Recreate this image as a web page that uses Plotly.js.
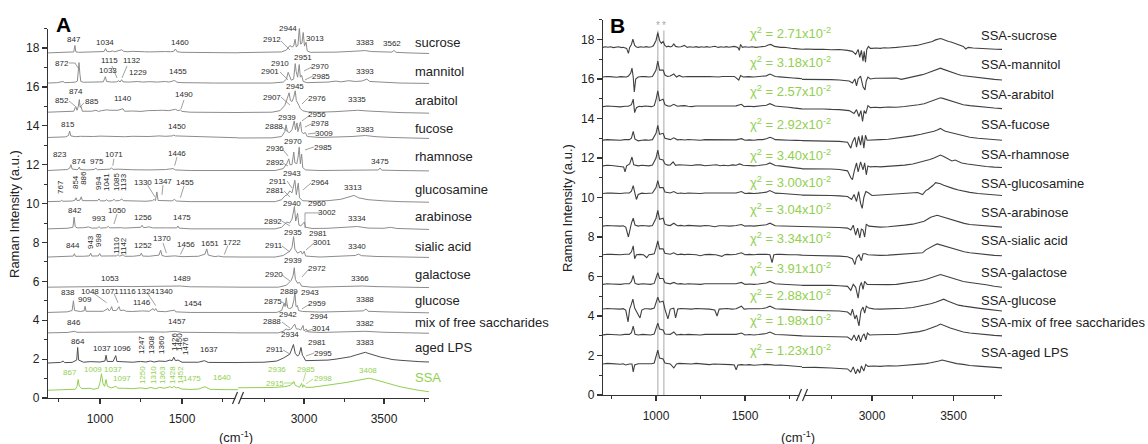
<!DOCTYPE html>
<html><head><meta charset="utf-8">
<script src="https://cdn.plot.ly/plotly-3.0.1.min.js"></script>
<style>html,body{margin:0;padding:0;background:#fff}#chart{width:1148px;height:444px}</style>
</head><body><div id="chart"></div>
<script>
// ---------- Panel A : reference spectra (values relative to each offset) ----------
const namesA = ['sucrose','mannitol','arabitol','fucose','rhamnose','glucosamine','arabinose','sialic acid','galactose','glucose','mix of free saccharides','aged LPS','SSA'];
const offsetsA = [17.75,16.2,14.7,13.4,11.7,10.1,8.7,7.25,5.7,4.4,3.35,1.8,0.4];
const nameYA = [18.26,16.77,15.28,13.84,12.40,10.75,9.36,7.77,6.33,4.99,3.86,2.62,1.08];

const A_sucrose1 = [683,0,760,0.01,800,0.03,830,0.02,840,0.05,847,0.38,853,0.05,870,0.03,920,0.04,960,0.03,1000,0.05,1025,0.07,1034,0.22,1042,0.08,1060,0.06,1075,0.1,1090,0.06,1110,0.1,1125,0.14,1132,0.16,1145,0.08,1170,0.06,1200,0.08,1240,0.05,1270,0.06,1300,0.05,1340,0.07,1370,0.05,1400,0.07,1430,0.06,1450,0.08,1460,0.2,1470,0.06,1500,0.03,1600,0.01,1700,0,1900,0];
const A_sucrose2 = [2500,0,2800,0.01,2860,0.05,2890,0.15,2905,0.3,2912,0.38,2925,0.3,2935,0.35,2944,0.7,2952,0.3,2962,0.4,2971,1.3,2978,0.45,2987,0.5,2995,1.05,3003,0.35,3013,0.55,3020,0.1,3040,0.03,3100,0.02,3200,0.04,3300,0.08,3383,0.12,3420,0.07,3500,0.03,3550,0.04,3562,0.13,3575,0.03,3650,0,3781,-0.03];
const A_mannitol1 = [683,0,740,0.02,775,0.08,785,0.02,820,0.03,850,0.05,862,0.1,867,0.5,872,1.05,877,0.5,883,0.08,900,0.04,950,0.05,990,0.04,1020,0.06,1033,0.33,1040,0.08,1070,0.05,1100,0.06,1115,0.12,1122,0.05,1132,0.17,1140,0.06,1180,0.05,1229,0.08,1260,0.05,1300,0.07,1350,0.05,1400,0.08,1420,0.05,1455,0.13,1470,0.04,1500,0.02,1700,0,1900,0];
const A_mannitol2 = [2500,0,2800,0,2870,0.05,2890,0.2,2901,0.55,2910,0.35,2920,0.15,2935,0.2,2945,1.0,2951,0.6,2960,0.3,2970,0.95,2977,0.3,2985,0.4,2995,0.08,3020,0.02,3100,0.03,3150,0.05,3200,0.1,3230,0.06,3280,0.12,3320,0.08,3360,0.1,3393,0.2,3410,0.08,3500,0.03,3600,0,3781,-0.02];
const A_arabitol1 = [683,0,750,0.03,800,0.02,840,0.05,852,0.3,860,0.1,868,0.3,874,0.65,879,0.25,885,0.3,892,0.05,920,0.06,950,0.05,975,0.1,990,0.04,1010,0.08,1040,0.12,1060,0.1,1090,0.08,1110,0.1,1140,0.18,1150,0.05,1200,0.06,1250,0.04,1290,0.08,1320,0.1,1350,0.09,1380,0.1,1420,0.08,1460,0.15,1475,0.08,1490,0.12,1500,0.04,1550,0,1650,-0.02,1800,-0.02,1900,-0.02];
const A_arabitol2 = [2500,-0.02,2800,0,2850,0.08,2880,0.35,2895,0.7,2907,1.0,2915,0.6,2925,0.55,2935,0.75,2945,1.1,2952,0.6,2960,0.5,2968,0.35,2976,0.2,2990,0.08,3020,0.02,3100,0,3200,0.03,3300,0.08,3335,0.1,3400,0.06,3500,0.02,3600,-0.02,3781,-0.05];
const A_fucose1 = [683,0,750,0.02,790,0.03,808,0.1,815,0.33,822,0.08,850,0.04,880,0.06,920,0.04,960,0.05,1000,0.07,1050,0.05,1100,0.06,1150,0.04,1200,0.06,1260,0.04,1300,0.05,1360,0.08,1400,0.06,1440,0.08,1450,0.12,1460,0.08,1520,0.06,1600,0.04,1700,0,1800,-0.03,1900,-0.03];
const A_fucose2 = [2500,-0.03,2800,-0.02,2860,0.05,2880,0.3,2888,0.65,2896,0.3,2910,0.25,2925,0.4,2939,0.85,2947,0.4,2956,0.75,2962,0.3,2970,0.55,2978,0.8,2985,0.3,2995,0.2,3009,0.25,3020,0.05,3100,0,3200,0.02,3300,0.05,3383,0.1,3450,0.04,3550,0,3781,-0.05];
const A_rhamnose1 = [683,0,750,0.02,800,0.05,815,0.12,823,0.3,830,0.08,860,0.04,868,0.08,874,0.18,880,0.05,920,0.03,965,0.05,975,0.12,985,0.04,1030,0.05,1060,0.07,1071,0.13,1080,0.06,1110,0.07,1150,0.05,1200,0.04,1300,0.03,1400,0.05,1446,0.1,1460,0.03,1550,0,1900,0];
const A_rhamnose2 = [2500,0,2820,0,2870,0.1,2892,0.35,2905,0.6,2912,0.3,2925,0.3,2936,0.95,2943,0.4,2955,0.35,2963,0.7,2970,1.2,2977,0.35,2985,0.85,2992,0.15,3010,0.03,3100,0,3400,0.02,3465,0.03,3475,0.13,3485,0.02,3600,0,3781,-0.02];
const A_glucosamine1 = [683,0,760,0.02,767,0.07,774,0.02,830,0.03,848,0.08,854,0.2,860,0.05,878,0.08,886,0.25,893,0.05,950,0.04,985,0.05,994,0.14,1003,0.04,1030,0.04,1041,0.1,1050,0.03,1075,0.05,1085,0.12,1095,0.04,1120,0.06,1133,0.14,1142,0.05,1200,0.03,1280,0.02,1320,0.05,1330,0.12,1338,0.05,1347,0.5,1354,0.06,1400,0.03,1440,0.04,1455,0.12,1465,0.03,1550,0,1900,0];
const A_glucosamine2 = [2500,0,2820,0,2860,0.1,2881,0.3,2895,0.35,2911,0.55,2925,0.45,2943,1.1,2952,0.35,2964,0.95,2972,0.2,2990,0.05,3050,0.02,3150,0.05,3230,0.12,3280,0.25,3313,0.32,3340,0.2,3400,0.1,3500,0.04,3600,0,3781,-0.03];
const A_arabinose1 = [683,0,760,0.02,800,0.03,835,0.08,842,0.6,849,0.12,860,0.05,900,0.06,930,0.1,950,0.04,985,0.04,993,0.12,1003,0.04,1040,0.06,1050,0.13,1060,0.05,1100,0.07,1130,0.06,1150,0.04,1200,0.05,1248,0.08,1256,0.18,1265,0.06,1300,0.1,1320,0.05,1400,0.05,1468,0.05,1475,0.15,1482,0.04,1550,0,1900,0];
const A_arabinose2 = [2500,0,2820,0,2860,0.08,2892,0.35,2910,0.3,2925,0.5,2940,1.15,2948,0.4,2960,0.8,2968,0.2,2980,0.15,3002,0.35,3010,0.08,3050,0.02,3150,0.03,3250,0.06,3334,0.12,3400,0.04,3500,0.03,3540,0.08,3580,0.02,3781,-0.03];
const A_sialic1 = [683,0,760,0.02,838,0.05,844,0.17,850,0.04,900,0.04,935,0.06,943,0.2,950,0.05,990,0.06,998,0.18,1006,0.05,1040,0.05,1070,0.07,1100,0.06,1110,0.12,1120,0.05,1142,0.12,1150,0.04,1200,0.04,1245,0.08,1252,0.2,1260,0.05,1300,0.04,1360,0.1,1370,0.35,1378,0.08,1400,0.03,1456,0.06,1500,0.02,1600,0.04,1640,0.15,1651,0.42,1660,0.1,1700,0.02,1722,0.05,1750,0.01,1900,0];
const A_sialic2 = [2500,0,2820,0,2870,0.08,2911,0.3,2925,0.5,2935,1.05,2943,0.4,2960,0.2,2981,0.3,2990,0.15,3001,0.3,3010,0.05,3100,0,3250,0.04,3320,0.08,3340,0.15,3360,0.07,3450,0.03,3600,0,3781,-0.02];
const A_galactose1 = [683,0,800,0.02,900,0.03,1000,0.03,1053,0.07,1100,0.04,1200,0.03,1300,0.04,1400,0.03,1489,0.06,1550,0.02,1700,0,1900,0];
const A_galactose2 = [2500,0,2840,0,2890,0.1,2920,0.35,2932,0.6,2939,1.0,2946,0.4,2960,0.2,2972,0.25,2985,0.05,3050,0,3250,0.03,3366,0.06,3450,0.03,3781,-0.02];
const A_glucose1 = [683,0,760,0.03,800,0.03,830,0.1,838,0.6,845,0.1,880,0.05,903,0.08,909,0.32,915,0.06,980,0.05,1000,0.08,1020,0.06,1048,0.2,1056,0.08,1064,0.15,1071,0.3,1078,0.1,1100,0.1,1116,0.3,1124,0.1,1146,0.12,1160,0.06,1200,0.05,1260,0.08,1300,0.06,1324,0.2,1332,0.1,1340,0.2,1350,0.06,1400,0.04,1454,0.12,1462,0.03,1550,0,1900,0];
const A_glucose2 = [2500,0,2830,0,2860,0.1,2875,0.45,2882,0.3,2889,0.75,2897,0.25,2910,0.2,2925,0.25,2936,0.6,2943,1.05,2950,0.3,2959,0.35,2966,0.1,2990,0.05,3100,0.02,3250,0.05,3370,0.08,3388,0.18,3400,0.06,3500,0.03,3781,-0.02];
const A_mix1 = [683,0,800,0.02,846,0.08,860,0.03,900,0.03,1000,0.04,1050,0.06,1100,0.05,1200,0.04,1300,0.05,1400,0.04,1457,0.08,1500,0.03,1700,0.01,1900,0];
const A_mix2 = [2500,0,2840,0,2870,0.08,2888,0.2,2900,0.15,2920,0.2,2942,0.45,2952,0.2,2965,0.2,2980,0.15,2994,0.38,3000,0.1,3014,0.2,3025,0.05,3100,0.02,3250,0.05,3382,0.08,3500,0.03,3781,-0.02];
const A_lps1 = [683,0,760,0.03,775,0.1,785,0.02,830,0.03,858,0.15,864,0.8,870,0.15,900,0.04,940,0.07,1000,0.05,1030,0.1,1037,0.4,1044,0.08,1080,0.08,1096,0.38,1103,0.08,1150,0.05,1200,0.04,1247,0.08,1280,0.05,1308,0.1,1330,0.05,1360,0.1,1400,0.08,1426,0.15,1440,0.12,1450,0.3,1460,0.12,1476,0.15,1500,0.04,1600,0.04,1637,0.12,1660,0.03,1750,0.02,1900,0.02];
const A_lps2 = [2500,0.02,2750,0.04,2830,0.1,2870,0.25,2911,0.45,2925,0.7,2934,0.95,2945,0.5,2960,0.35,2970,0.45,2981,0.8,2990,0.4,2995,0.35,3010,0.12,3050,0.12,3100,0.14,3150,0.15,3200,0.2,3250,0.25,3290,0.32,3320,0.4,3350,0.48,3383,0.55,3400,0.5,3420,0.45,3450,0.38,3480,0.3,3520,0.24,3550,0.18,3600,0.14,3650,0.1,3720,0.07,3781,0.05];
const A_ssa1 = [683,0,750,0.02,780,0.05,800,0.02,850,0.05,860,0.2,867,0.55,874,0.2,890,0.08,940,0.1,960,0.05,990,0.1,1000,0.4,1009,0.85,1018,0.35,1028,0.2,1037,0.55,1045,0.2,1070,0.12,1097,0.2,1110,0.1,1150,0.1,1200,0.08,1250,0.12,1280,0.08,1310,0.14,1340,0.08,1363,0.15,1390,0.1,1428,0.18,1440,0.12,1452,0.2,1465,0.12,1475,0.15,1500,0.06,1550,0.04,1600,0.06,1640,0.18,1670,0.05,1750,0.03,1900,0.03];
const A_ssa2 = [2500,0.12,2650,0.12,2800,0.14,2880,0.18,2915,0.25,2936,0.45,2945,0.25,2960,0.2,2972,0.15,2985,0.35,2992,0.15,2998,0.28,3010,0.15,3050,0.15,3150,0.25,3250,0.38,3330,0.5,3380,0.58,3408,0.62,3440,0.55,3500,0.4,3600,0.18,3700,0.02,3781,-0.08];

const specA1 = [A_sucrose1,A_mannitol1,A_arabitol1,A_fucose1,A_rhamnose1,A_glucosamine1,A_arabinose1,A_sialic1,A_galactose1,A_glucose1,A_mix1,A_lps1,A_ssa1];
const specA2 = [A_sucrose2,A_mannitol2,A_arabitol2,A_fucose2,A_rhamnose2,A_glucosamine2,A_arabinose2,A_sialic2,A_galactose2,A_glucose2,A_mix2,A_lps2,A_ssa2];

// peak labels of panel A: [text, wavenumber, intensity, segment, rotated]
const peakLabelsA = [
['847',841,18.42,1,0],['1034',1030,18.31,1,0],['1460',1488,18.26,1,0],['2912',2800,18.42,2,0],['2944',2900,18.98,2,0],['2971',2962,19.65,2,0],['2995',3050,19.03,2,0],['3013',3069,18.47,2,0],['3383',3381,18.26,2,0],['3562',3550,18.21,2,0],
['872',768,17.23,1,0],['1115',1061,17.34,1,0],['1132',1195,17.34,1,0],['1033',1049,16.82,1,0],['1229',1232,16.72,1,0],['1455',1476,16.77,1,0],['2910',2850,17.23,2,0],['2901',2787,16.77,2,0],['2951',2994,17.49,2,0],['2970',3100,17.03,2,0],['2985',3106,16.56,2,0],['2945',2944,16.00,2,0],['3393',3381,16.77,2,0],
['874',854,15.79,1,0],['852',768,15.28,1,0],['885',951,15.23,1,0],['1140',1140,15.38,1,0],['1490',1512,15.59,1,0],['2907',2800,15.48,2,0],['2976',3081,15.43,2,0],['3335',3331,15.33,2,0],
['815',805,14.09,1,0],['1450',1470,13.99,1,0],['2888',2812,13.94,2,0],['2939',2894,14.45,2,0],['2956',3081,14.58,2,0],['2978',3100,14.13,2,0],['3009',3125,13.63,2,0],['3383',3381,13.79,2,0],
['823',756,12.55,1,0],['874',872,12.19,1,0],['975',982,12.19,1,0],['1071',1085,12.50,1,0],['1446',1470,12.60,1,0],['2936',2819,12.81,2,0],['2892',2819,12.09,2,0],['2970',2931,13.17,2,0],['2985',3119,12.91,2,0],['3475',3475,12.19,2,0],
['767',756,10.85,1,1],['854',848,11.11,1,1],['886',902,11.32,1,1],['994',994,11.06,1,1],['1041',1037,11.11,1,1],['1085',1097,11.11,1,1],['1133',1140,11.11,1,1],['1330',1262,11.06,1,0],['1347',1384,11.16,1,0],['1455',1518,11.06,1,0],['2911',2837,11.16,2,0],['2881',2819,10.65,2,0],['2943',2925,11.57,2,0],['2964',3100,11.06,2,0],['3313',3306,10.85,2,0],
['842',848,9.62,1,0],['993',994,9.21,1,0],['1050',1104,9.62,1,0],['1256',1262,9.26,1,0],['1475',1500,9.26,1,0],['2892',2806,9.10,2,0],['2940',2925,10.03,2,0],['2960',3081,10.03,2,0],['3002',3144,9.52,2,0],['3334',3331,9.21,2,0],
['844',835,7.82,1,0],['943',939,8.02,1,1],['998',994,8.13,1,1],['1110',1104,7.82,1,1],['1142',1146,7.82,1,1],['1252',1262,7.82,1,0],['1370',1378,8.18,1,0],['1456',1524,7.92,1,0],['1651',1671,7.97,1,0],['1722',1805,8.02,1,0],['2911',2812,7.82,2,0],['2935',2931,8.49,2,0],['2981',3088,8.44,2,0],['3001',3112,8.02,2,0],['3340',3331,7.77,2,0],
['1053',1061,6.17,1,0],['1489',1500,6.17,1,0],['2920',2812,6.33,2,0],['2939',2931,7.05,2,0],['2972',3081,6.64,2,0],['3366',3350,6.17,2,0],
['838',805,5.45,1,0],['909',909,5.09,1,0],['1048',939,5.50,1,0],['1071',1061,5.50,1,0],['1116',1165,5.50,1,0],['1324',1280,5.50,1,0],['1340',1390,5.50,1,0],['1146',1256,4.89,1,0],['1454',1567,4.84,1,0],['2889',2906,5.50,2,0],['2875',2806,4.94,2,0],['2943',3037,5.45,2,0],['2959',3081,4.84,2,0],['3388',3381,5.09,2,0],
['846',841,3.86,1,0],['1457',1470,3.91,1,0],['2888',2800,3.91,2,0],['2942',2900,4.32,2,0],['2994',3094,4.17,2,0],['3014',3106,3.55,2,0],['3382',3381,3.81,2,0],
['864',866,2.93,1,0],['1037',1012,2.57,1,0],['1096',1134,2.57,1,0],['1247',1256,2.73,1,1],['1308',1317,2.73,1,1],['1360',1378,2.73,1,1],['1426',1451,2.88,1,1],['1450',1482,2.88,1,1],['1476',1518,2.67,1,1],['1637',1665,2.47,1,0],['2911',2819,2.47,2,0],['2934',2912,3.29,2,0],['2981',3081,2.83,2,0],['2995',3119,2.31,2,0],['3383',3381,2.83,2,0]
];
const peakLabelsSSA = [
['867',817,1.29,1,0],['1009',957,1.49,1,0],['1037',1079,1.49,1,0],['1097',1134,0.98,1,0],['1250',1256,1.18,1,1],['1310',1323,1.18,1,1],['1363',1378,1.18,1,1],['1428',1439,1.18,1,1],['1452',1488,1.18,1,1],['1475',1561,0.98,1,0],['1640',1744,1.08,1,0],['2915',2819,0.77,2,0],['2936',2831,1.49,2,0],['2985',3012,1.49,2,0],['2998',3119,0.98,2,0],['3408',3400,1.44,2,0]
];
// leader lines from labels to peaks: [segment, w0, v0, w1, v1]
const leadersA = [
[1,811,17.23,848,17.23],[1,848,17.23,866,16.98],[1,1073,17.08,1104,16.46],[1,1165,17.08,1134,16.46],
[1,811,15.28,848,15.02],[1,902,15.17,878,14.97],[1,1512,15.33,1494,14.87],
[1,1470,12.40,1455,11.95],[1,1085,12.30,1078,11.95],
[1,1290,10.95,1335,10.35],[1,1384,10.95,1378,10.45],[1,1512,10.90,1490,10.30],
[1,1104,9.45,1085,8.95],[1,1384,7.98,1405,7.45],[1,1512,7.75,1490,7.38],[1,1780,7.85,1758,7.38],
[1,960,5.40,1040,4.90],[1,1085,5.38,1110,4.90],[1,1290,5.38,1340,4.75],
[2,2856,18.36,2912,17.90],[2,2850,16.77,2900,16.36],[2,3050,17.03,3000,16.82],[2,3056,16.56,3006,16.36],
[2,2856,15.48,2912,15.07],[2,3025,15.43,2987,15.12],[2,2862,13.94,2894,13.73],[2,3037,14.55,2987,14.25],
[2,3056,14.13,3006,13.94],[2,3075,13.63,3025,13.58],[2,2869,12.76,2900,12.45],[2,2869,12.09,2900,11.93],
[2,3062,12.91,3006,12.76],[2,2894,11.16,2925,10.80],[2,2875,10.65,2912,10.34],[2,3044,11.06,2994,10.70],
[2,2862,9.10,2912,8.85],[2,3006,8.74,3006,9.52],[2,3006,9.52,3100,9.52],[2,2862,7.82,2912,7.51],[2,3069,8.02,3012,7.61],
[2,2862,6.33,2912,6.02],[2,3031,6.64,2987,6.22],[2,2862,4.94,2900,4.74],[2,3037,4.84,2987,4.58],
[2,2862,3.91,2912,3.60],[2,3056,3.55,3006,3.40],[2,2869,2.47,2912,2.26],[2,3062,2.31,3012,2.16]
];
const leadersSSA = [[2,2875,0.77,2944,0.77],[2,3056,0.98,3012,0.72],[2,3012,1.35,2995,0.85]];

// ---------- Panel B : residual spectra ----------
const namesB = ['SSA-sucrose','SSA-mannitol','SSA-arabitol','SSA-fucose','SSA-rhamnose','SSA-glucosamine','SSA-arabinose','SSA-sialic acid','SSA-galactose','SSA-glucose','SSA-mix of free saccharides','SSA-aged LPS'];
const offsetsB = [17.6,16.1,14.6,12.9,11.6,10.2,8.55,7.1,5.6,4.35,3.04,1.57];
const nameYB = [18.18,16.71,15.19,13.72,12.20,10.73,9.22,7.80,6.18,4.81,3.65,2.13];
const chi2 = ['2.71','3.18','2.57','2.92','3.40','3.00','3.04','3.34','3.91','2.88','1.98','1.23'];
const chiY = [18.33,16.86,15.39,13.72,12.15,10.78,9.42,7.95,6.43,5.06,3.80,2.28];
const markedPeaks = [1010,1044];

const B_sucrose1 = [700,0,715,0.03,730,0.01,745,0.03,760,-0.01,775,0.02,790,0.03,805,-0.01,815,0.01,835,-0.05,845,-0.3,852,0,862,0.15,870,0.42,880,0.1,890,0.02,900,0,915,0.03,930,0.01,945,0.04,960,0.01,975,0.03,985,0.08,1000,0.35,1010,0.75,1020,0.35,1030,0.2,1040,0.3,1050,0.1,1060,0.03,1070,0.06,1080,0.02,1090,0.06,1100,0.18,1110,0.05,1125,0.02,1140,0.03,1160,0.1,1175,0,1190,0.03,1210,0.01,1225,0.04,1240,0,1255,0.03,1270,0.01,1285,0.04,1300,0.01,1315,0.03,1330,0.06,1350,0,1365,0.03,1380,0.01,1395,0.04,1410,0.01,1425,0.03,1440,0.05,1460,0,1468,-0.15,1475,0.15,1485,0,1500,0.03,1520,0.01,1540,0.03,1560,0,1580,0.02,1600,0.03,1615,0.06,1630,0.12,1645,0.15,1665,0.05,1680,0.02,1700,0,1720,0.01,1740,-0.03,1760,-0.04,1780,-0.06,1800,-0.07,1830,-0.1];
const B_sucrose2 = [2560,-0.1,2600,-0.08,2650,-0.1,2700,-0.09,2750,-0.12,2800,-0.11,2850,-0.15,2880,-0.2,2900,-0.35,2915,-0.1,2925,-0.5,2935,-0.15,2945,-0.7,2952,-0.2,2960,-0.75,2968,-0.1,2978,0.05,2990,-0.05,3000,-0.05,3025,-0.03,3050,-0.05,3075,-0.02,3100,-0.03,3125,0.0,3150,0,3175,0.02,3200,0.03,3225,0.05,3250,0.08,3275,0.1,3300,0.15,3325,0.19,3350,0.25,3370,0.3,3390,0.38,3405,0.4,3420,0.45,3430,0.42,3440,0.38,3455,0.35,3470,0.3,3485,0.27,3500,0.22,3515,0.18,3530,0.12,3545,0.09,3560,0.05,3575,-0.08,3590,0,3620,-0.03,3650,-0.05,3685,-0.06,3720,-0.08,3760,-0.09,3800,-0.1];
const B_mannitol1 = [700,0,720,0.03,740,0.02,760,0.0,780,-0.01,800,0.02,820,0.02,835,0.0,845,0.05,858,0.2,865,0.45,872,0,878,-0.75,886,-0.1,900,0,920,0.03,940,0.02,960,0.0,980,0.03,1000,0.35,1010,0.8,1020,0.35,1040,0.35,1050,0.1,1065,0.03,1080,0.05,1100,0.15,1115,0,1130,0.08,1150,0,1175,0.03,1200,0.02,1225,0.04,1250,0,1275,0.02,1300,0.03,1325,0.0,1350,0,1375,0.03,1400,0.02,1420,0.0,1440,0.03,1465,-0.15,1475,0.08,1490,0,1520,0.02,1550,0,1575,0.02,1600,0.02,1620,0.06,1640,0.15,1655,0.1,1670,0.03,1695,0.01,1720,0,1745,-0.03,1770,-0.05,1800,-0.07,1830,-0.1];
const B_mannitol2 = [2560,-0.12,2630,-0.11,2700,-0.12,2750,-0.13,2800,-0.15,2860,-0.2,2880,-0.3,2895,-0.1,2905,-0.45,2915,-0.1,2930,0.05,2945,-0.5,2957,-0.65,2965,-0.2,2975,0,2990,-0.1,3020,-0.06,3050,-0.05,3100,-0.06,3150,-0.05,3180,-0.12,3220,-0.05,3250,0.0,3280,0.05,3310,0.12,3340,0.2,3360,0.27,3380,0.35,3400,0.4,3420,0.45,3435,0.4,3450,0.35,3475,0.28,3500,0.2,3525,0.14,3550,0.08,3585,0.04,3620,0,3660,-0.04,3700,-0.08,3750,-0.12,3800,-0.15];
const B_arabitol1 = [700,0,725,0.03,750,0.02,775,0.0,800,-0.01,825,0.02,845,0.02,862,0.1,872,0.38,880,-0.3,890,-0.05,905,0.02,920,0,940,0.03,960,0.02,975,0.0,990,0.05,1000,0.35,1010,0.8,1020,0.3,1040,0.38,1050,0.1,1065,0.04,1080,0.02,1100,0.12,1120,0.02,1140,0.04,1160,0.05,1180,0.02,1200,0,1225,0.03,1250,0.03,1275,0.0,1300,0,1325,0.03,1350,0.03,1375,0.0,1400,0,1425,0.03,1450,0.04,1480,0.12,1495,0,1520,0.02,1550,0,1575,0.02,1600,0.03,1620,0.07,1640,0.15,1655,0.1,1670,0.03,1695,0.01,1720,0,1745,-0.03,1770,-0.06,1800,-0.08,1830,-0.12];
const B_arabitol2 = [2560,-0.12,2630,-0.11,2700,-0.12,2750,-0.14,2800,-0.15,2860,-0.2,2890,-0.35,2905,-0.15,2920,-0.5,2932,-0.2,2942,-0.75,2952,-0.2,2962,-0.35,2975,0.05,2990,-0.05,3020,-0.03,3050,-0.05,3100,-0.02,3150,-0.03,3200,0.01,3250,0.05,3285,0.1,3320,0.15,3350,0.25,3380,0.35,3400,0.41,3420,0.45,3435,0.42,3450,0.38,3475,0.3,3500,0.22,3530,0.15,3560,0.1,3600,0.05,3650,0,3700,-0.04,3750,-0.07,3800,-0.1];
const B_fucose1 = [700,0,725,0.03,750,0.02,775,0.0,800,0,825,0.03,850,0.03,862,0.1,872,0.45,882,0.05,900,-0.03,920,0.0,940,0.02,960,0.0,980,0.03,1000,0.35,1010,0.75,1020,0.3,1040,0.35,1050,0.1,1065,0.05,1080,0.03,1100,0.12,1120,0.02,1140,0.04,1160,0.01,1180,0.04,1200,0.03,1225,0.01,1250,0,1275,0.03,1300,0.03,1325,0.0,1350,0,1375,0.03,1400,0.03,1425,0.0,1450,0.02,1480,0.08,1500,0,1525,0.02,1550,0.0,1575,0.03,1600,0.03,1620,0.07,1640,0.15,1655,0.1,1670,0.03,1700,0.02,1725,0.0,1750,0,1790,-0.01,1830,-0.02];
const B_fucose2 = [2560,-0.02,2625,-0.03,2690,-0.02,2750,-0.05,2800,-0.06,2850,-0.1,2870,-0.4,2880,-0.1,2895,0.15,2905,-0.35,2918,0.2,2930,-0.25,2940,0.25,2950,-0.4,2960,0.25,2970,0,3000,0,3050,0.03,3100,0.05,3150,0.1,3200,0.15,3250,0.22,3300,0.3,3340,0.36,3380,0.45,3400,0.52,3420,0.6,3435,0.52,3450,0.45,3475,0.4,3500,0.35,3530,0.28,3560,0.2,3600,0.15,3650,0.1,3690,0.07,3720,0.05,3760,0.02,3800,0];
const B_rhamnose1 = [700,0,725,0.03,750,0.02,775,0.0,800,0,818,-0.05,826,-0.3,835,0,852,0.1,865,0.45,875,0.05,890,0.02,900,0,920,0.03,940,0.02,960,0.0,980,0.05,1000,0.4,1010,0.8,1020,0.35,1040,0.3,1050,0.1,1065,0.04,1080,0.05,1096,0.2,1110,0.03,1130,0.06,1150,0.05,1175,0.01,1200,0.02,1225,0.05,1250,0.05,1275,0.01,1300,0.02,1320,0.05,1340,0.06,1360,0.01,1380,0.03,1405,0.01,1430,0.05,1450,0.03,1470,0.1,1490,0.03,1520,0.01,1550,0,1575,0.02,1600,0.03,1620,0.07,1640,0.15,1655,0.1,1670,0.02,1695,0.0,1720,-0.03,1745,-0.05,1770,-0.08,1800,-0.11,1830,-0.15];
const B_rhamnose2 = [2560,-0.15,2630,-0.14,2700,-0.15,2750,-0.16,2800,-0.18,2850,-0.25,2870,-0.6,2880,-0.7,2890,-0.3,2905,0.15,2915,-0.3,2930,0.2,2945,-0.2,2955,0.15,2965,-0.45,2975,0,2990,-0.05,3020,-0.03,3050,-0.05,3100,-0.03,3150,0,3200,0.04,3250,0.1,3290,0.17,3330,0.25,3355,0.32,3380,0.4,3400,0.48,3420,0.55,3440,0.48,3460,0.4,3475,0.32,3490,0.25,3510,0.3,3530,0.22,3550,0.15,3585,0.1,3620,0.05,3660,0.01,3700,-0.03,3750,-0.06,3800,-0.08];
const B_glucosamine1 = [700,0,725,0.03,750,0.02,775,0.0,800,0,825,0.03,850,0.03,862,0.12,872,0.4,882,0,890,-0.3,900,-0.05,920,0.02,940,0,960,0.02,980,0.03,1000,0.3,1010,0.65,1020,0.3,1040,0.3,1050,0.08,1065,0.04,1080,0.03,1100,0.1,1120,0,1140,0.03,1160,0.0,1180,0.03,1200,0.02,1225,0.0,1250,0,1275,0.03,1300,0.03,1325,0.0,1350,0,1375,0.03,1400,0.02,1425,0.0,1450,0.03,1480,0.1,1500,0,1525,0.02,1550,0.0,1575,0.02,1600,0.03,1620,0.07,1640,0.15,1655,0.1,1670,0.02,1710,0.0,1750,-0.03,1790,-0.05,1830,-0.08];
const B_glucosamine2 = [2560,-0.08,2650,-0.08,2750,-0.1,2800,-0.12,2850,-0.15,2875,-0.3,2890,-0.05,2905,-0.4,2918,0.1,2930,-0.5,2940,-0.75,2950,-0.2,2962,0.1,2975,0.05,3000,-0.1,3050,-0.07,3100,-0.05,3150,-0.03,3200,0,3240,0.02,3280,0.05,3310,-0.05,3330,0.15,3345,0.22,3360,0.3,3375,0.42,3390,0.55,3405,0.52,3420,0.5,3440,0.42,3460,0.35,3480,0.3,3500,0.25,3530,0.18,3560,0.12,3600,0.06,3650,0,3700,-0.04,3750,-0.07,3800,-0.1];
const B_arabinose1 = [700,0,725,0.03,750,0.02,775,0.0,800,0,815,0.02,830,-0.05,845,-0.55,855,0,862,0.15,872,0.4,882,0.05,900,0,920,0.03,940,0.02,960,0.0,980,0.03,1000,0.4,1010,0.8,1020,0.35,1040,0.4,1050,0.1,1065,0.05,1080,0.03,1100,0.15,1120,0.02,1140,0.04,1160,0.01,1180,0.04,1200,0.03,1225,0.0,1250,0,1275,0.03,1300,0.02,1330,-0.03,1355,0.02,1380,0.02,1415,0.0,1450,0.03,1480,0.08,1500,0,1525,0.02,1550,0.0,1575,0.02,1600,0.03,1620,0.07,1640,0.15,1655,0.1,1670,0.02,1710,0.01,1750,0,1790,-0.01,1830,-0.02];
const B_arabinose2 = [2560,-0.02,2650,-0.03,2750,-0.05,2800,-0.07,2850,-0.1,2870,-0.2,2885,0.05,2900,-0.45,2912,-0.1,2925,-0.6,2935,-0.15,2945,-0.2,2955,-0.55,2965,0.1,2980,0,3010,-0.03,3050,-0.05,3100,-0.03,3150,0,3200,0.05,3250,0.1,3285,0.17,3320,0.25,3340,0.35,3360,0.45,3380,0.5,3400,0.55,3420,0.5,3440,0.45,3460,0.4,3480,0.35,3505,0.27,3530,0.2,3565,0.14,3600,0.08,3650,0.04,3700,0,3750,-0.03,3800,-0.05];
const B_sialic1 = [700,0,725,0.03,750,0.02,775,0.0,800,0,825,0.03,850,0.03,862,0.15,872,0.45,880,-0.2,890,0,910,0.02,930,0,948,-0.15,960,0,975,0.02,990,0.05,1000,0.35,1010,0.7,1020,0.3,1040,0.3,1050,0.08,1065,0.04,1080,0.03,1100,0.1,1120,0,1140,0.03,1160,0.01,1180,0.03,1200,0.03,1225,0.0,1250,-0.05,1275,0.01,1300,0.02,1335,0.0,1370,-0.08,1385,0.0,1400,0.02,1425,0.0,1450,0.03,1480,0.1,1500,0,1525,0.02,1550,0.0,1575,0.03,1600,0.02,1620,0.03,1640,0,1652,-0.4,1662,0,1680,0.03,1700,0.02,1725,0.0,1750,0,1790,0.0,1830,-0.02];
const B_sialic2 = [2560,-0.02,2650,-0.03,2750,-0.05,2800,-0.07,2850,-0.1,2880,-0.2,2895,-0.5,2905,-0.15,2920,0,2935,-0.3,2945,0.05,2960,0.05,2975,0,3010,-0.02,3050,-0.03,3100,-0.02,3150,0,3200,0.02,3250,0.05,3280,0.07,3310,0.1,3330,0.25,3350,0.35,3370,0.45,3385,0.5,3400,0.55,3420,0.5,3440,0.45,3460,0.4,3480,0.35,3505,0.27,3530,0.2,3565,0.15,3600,0.1,3650,0.05,3700,0,3750,-0.03,3800,-0.05];
const B_galactose1 = [700,0,725,0.03,750,0.02,775,0.0,800,0,825,0.03,850,0.03,862,0.15,872,0.45,882,0.05,900,0,925,0.03,950,0.02,970,0.0,990,0.05,1000,0.35,1010,0.6,1020,0.3,1040,0.3,1050,0.08,1065,0.04,1080,0.03,1100,0.1,1120,0.02,1140,0.04,1160,0.01,1180,0.03,1200,0.02,1225,0.0,1250,0,1275,0.03,1300,0.03,1325,0.0,1350,0,1375,0.03,1400,0.02,1425,0.0,1450,0.03,1480,0.1,1500,0,1525,0.02,1550,0.0,1575,0.02,1600,0.03,1620,0.07,1640,0.15,1655,0.1,1670,0.03,1710,0.01,1750,0,1790,-0.03,1830,-0.05];
const B_galactose2 = [2560,-0.05,2650,-0.04,2750,-0.05,2800,-0.07,2850,-0.1,2870,-0.3,2885,0,2900,-0.15,2915,-0.7,2925,-0.1,2935,0.1,2945,-0.25,2955,0.15,2970,0,3010,-0.01,3050,-0.02,3100,-0.01,3150,0,3200,0.05,3250,0.1,3290,0.17,3330,0.25,3355,0.32,3380,0.4,3400,0.45,3420,0.5,3440,0.45,3460,0.4,3480,0.35,3500,0.3,3530,0.22,3560,0.15,3600,0.1,3650,0.05,3700,-0.02,3750,-0.09,3800,-0.15];
const B_glucose1 = [700,0,725,0.03,750,0.02,775,0.0,800,0,815,0.02,830,-0.05,843,-0.65,852,0,860,0.2,870,0.5,880,0.05,895,-0.2,910,-0.45,920,-0.05,935,0.02,950,0.02,970,0.0,990,0.05,1000,0.3,1010,0.6,1020,0.35,1040,0.4,1050,0,1067,-0.5,1080,0,1100,0.05,1110,-0.45,1122,0,1140,0.03,1160,0.02,1180,0.0,1200,0,1225,0.03,1250,0.02,1275,0.0,1300,0,1330,-0.05,1343,-0.35,1355,0,1375,0.02,1400,0.03,1425,0.0,1450,0.02,1480,0.15,1495,0,1520,0.02,1550,0,1575,0.02,1600,0.03,1620,0.07,1640,0.15,1655,0.1,1670,0.02,1710,0.0,1750,-0.03,1790,-0.04,1830,-0.05];
const B_glucose2 = [2560,-0.05,2650,-0.06,2750,-0.08,2800,-0.1,2850,-0.15,2870,-0.3,2880,0,2895,-0.5,2905,-0.3,2920,-0.85,2932,-0.1,2945,0.1,2955,-0.2,2965,0.15,2980,0.05,3010,0.01,3050,0,3100,0.01,3150,0,3200,0.04,3250,0.08,3290,0.14,3330,0.2,3360,0.27,3390,0.35,3415,0.42,3440,0.5,3460,0.42,3480,0.35,3505,0.27,3530,0.2,3565,0.15,3600,0.1,3650,0.05,3700,0,3750,-0.05,3800,-0.1];
const B_mix1 = [700,0,725,0.03,750,0.02,775,0.0,800,0,825,0.03,850,0.03,862,0.12,872,0.45,882,0.03,900,0,925,0.03,950,0.02,970,0.0,990,0.05,1000,0.3,1010,0.6,1020,0.3,1040,0.25,1050,0.05,1065,0.04,1080,0.03,1100,0.15,1115,0,1140,0.03,1160,0.01,1180,0.03,1200,0.02,1225,0.0,1250,0,1275,0.03,1300,0.03,1325,0.0,1350,0,1375,0.03,1400,0.02,1425,0.0,1450,0.03,1480,0.1,1500,0,1525,0.02,1550,0.0,1575,0.02,1600,0.03,1620,0.07,1640,0.15,1655,0.1,1670,0.02,1710,0.01,1750,0,1790,-0.03,1830,-0.05];
const B_mix2 = [2560,-0.05,2650,-0.06,2750,-0.08,2800,-0.09,2850,-0.1,2875,-0.25,2890,0,2905,-0.3,2918,0,2930,-0.35,2942,-0.05,2952,0.05,2962,-0.25,2972,0.1,2985,0,3020,0.01,3050,0,3100,0.02,3150,0.02,3200,0.06,3250,0.1,3290,0.17,3330,0.25,3355,0.32,3380,0.4,3400,0.47,3420,0.55,3440,0.47,3460,0.4,3480,0.35,3500,0.3,3530,0.22,3560,0.15,3600,0.1,3650,0.05,3700,0.01,3750,-0.02,3800,-0.05];
const B_lps1 = [700,0,725,0.03,750,0.02,775,0.0,800,-0.01,815,0.01,830,-0.05,850,0,865,0,872,-0.4,880,-0.05,900,0.01,920,0,940,0.02,960,-0.02,975,0.01,990,0.05,1000,0.35,1010,0.7,1020,0.3,1040,0.25,1050,0.05,1065,0.02,1080,0,1100,-0.2,1115,0,1130,0.03,1150,0.02,1175,0.0,1200,0,1225,0.03,1250,0.02,1275,-0.01,1300,-0.03,1325,0.0,1350,0,1375,-0.03,1400,-0.02,1420,-0.03,1440,-0.05,1450,-0.3,1460,-0.05,1480,-0.03,1500,-0.05,1525,-0.03,1550,-0.06,1575,-0.04,1600,-0.04,1620,-0.02,1640,-0.03,1670,-0.06,1700,-0.05,1730,-0.07,1760,-0.08,1795,-0.11,1830,-0.15];
const B_lps2 = [2560,-0.18,2650,-0.17,2750,-0.2,2800,-0.22,2850,-0.25,2870,-0.4,2885,-0.15,2900,-0.5,2912,-0.25,2925,-0.45,2935,-0.1,2950,-0.35,2962,-0.02,2975,-0.12,3010,-0.1,3050,-0.12,3100,-0.09,3150,-0.1,3200,-0.07,3250,-0.05,3290,-0.02,3330,0.02,3360,0.06,3390,0.1,3410,0.15,3430,0.2,3450,0.16,3470,0.12,3495,0.07,3520,0.02,3560,-0.02,3600,-0.08,3650,-0.11,3700,-0.15,3750,-0.18,3800,-0.2];

const specB1 = [B_sucrose1,B_mannitol1,B_arabitol1,B_fucose1,B_rhamnose1,B_glucosamine1,B_arabinose1,B_sialic1,B_galactose1,B_glucose1,B_mix1,B_lps1];
const specB2 = [B_sucrose2,B_mannitol2,B_arabitol2,B_fucose2,B_rhamnose2,B_glucosamine2,B_arabinose2,B_sialic2,B_galactose2,B_glucose2,B_mix2,B_lps2];

// ---------- build ----------
const W = 1148, H = 444;
const GREEN = '#92d050', GREY = '#8c8c8c', DARK = '#4f4f4f', BDARK = '#404040';
const FONT = 'Arial, "Liberation Sans", Helvetica, sans-serif';
const px = v => v / W, py = v => 1 - v / H;

function pairs(arr, off) {
  const x = [], y = [];
  for (let i = 0; i < arr.length; i += 2) { x.push(arr[i]); y.push(arr[i + 1] + off); }
  return {x, y};
}
const traces = [];
function addLine(arr, off, xa, ya, color, w) {
  const p = pairs(arr, off);
  traces.push({x: p.x, y: p.y, xaxis: xa, yaxis: ya, type: 'scatter', mode: 'lines',
    line: {color: color, width: w || 1}, hoverinfo: 'skip'});
}
namesA.forEach((n, i) => {
  const c = n === 'SSA' ? GREEN : (n === 'aged LPS' ? DARK : GREY);
  addLine(specA1[i], offsetsA[i], 'x', 'y', c, 1);
  addLine(specA2[i], offsetsA[i], 'x2', 'y', c, 1);
});
namesB.forEach((n, i) => {
  addLine(specB1[i], offsetsB[i], 'x3', 'y2', BDARK, 1.1);
  addLine(specB2[i], offsetsB[i], 'x4', 'y2', BDARK, 1.1);
});

const ann = [];
function peakAnn(l, color) {
  ann.push({text: l[0], x: l[1], y: l[2], xref: l[3] === 1 ? 'x' : 'x2', yref: 'y', showarrow: false,
    xanchor: 'center', yanchor: 'middle', textangle: l[4] ? -90 : 0,
    font: {family: FONT, size: 8, color: color}});
}
peakLabelsA.forEach(l => peakAnn(l, '#2b2b2b'));
peakLabelsSSA.forEach(l => peakAnn(l, GREEN));
namesA.forEach((n, i) => ann.push({text: n, x: 3681, y: nameYA[i], xref: 'x2', yref: 'y', showarrow: false,
  xanchor: 'left', yanchor: 'middle', font: {family: FONT, size: 13, color: n === 'SSA' ? GREEN : '#222'}}));
namesB.forEach((n, i) => ann.push({text: n, x: 3656, y: nameYB[i], xref: 'x4', yref: 'y2', showarrow: false,
  xanchor: 'left', yanchor: 'middle', font: {family: FONT, size: 13, color: '#222'}}));
chi2.forEach((c, i) => ann.push({text: 'χ<sup>2</sup> = ' + c + 'x10<sup>-2</sup>', x: 1517, y: chiY[i], xref: 'x3', yref: 'y2',
  showarrow: false, xanchor: 'left', yanchor: 'middle', font: {family: FONT, size: 13, color: GREEN}}));
markedPeaks.forEach(m => ann.push({text: '*', x: m, y: 18.72, xref: 'x3', yref: 'y2', showarrow: false,
  xanchor: 'center', yanchor: 'middle', font: {family: FONT, size: 10, color: '#aaa'}}));
ann.push({text: '<b>A</b>', x: px(63), y: py(25), xref: 'paper', yref: 'paper', showarrow: false, xanchor: 'center', yanchor: 'middle', font: {family: FONT, size: 21, color: '#000'}});
ann.push({text: '<b>B</b>', x: px(617), y: py(26), xref: 'paper', yref: 'paper', showarrow: false, xanchor: 'center', yanchor: 'middle', font: {family: FONT, size: 21, color: '#000'}});
ann.push({text: 'Raman Intensity (a.u.)', x: px(15), y: py(214), xref: 'paper', yref: 'paper', showarrow: false, textangle: -90, xanchor: 'center', yanchor: 'middle', font: {family: FONT, size: 13, color: '#222'}});
ann.push({text: 'Raman Intensity (a.u.)', x: px(567), y: py(208), xref: 'paper', yref: 'paper', showarrow: false, textangle: -90, xanchor: 'center', yanchor: 'middle', font: {family: FONT, size: 13, color: '#222'}});
ann.push({text: '(cm<sup>-1</sup>)', x: px(236), y: py(437), xref: 'paper', yref: 'paper', showarrow: false, xanchor: 'center', yanchor: 'middle', font: {family: FONT, size: 13, color: '#222'}});
ann.push({text: '(cm<sup>-1</sup>)', x: px(798), y: py(437), xref: 'paper', yref: 'paper', showarrow: false, xanchor: 'center', yanchor: 'middle', font: {family: FONT, size: 13, color: '#222'}});

const shapes = [];
markedPeaks.forEach(m => shapes.push({type: 'line', xref: 'x3', yref: 'y2', x0: m, x1: m, y0: 0, y1: 18.45,
  line: {color: '#c4c4c4', width: 1.5}, layer: 'below'}));
leadersA.forEach(l => shapes.push({type: 'line', xref: l[0] === 1 ? 'x' : 'x2', yref: 'y', x0: l[1], y0: l[2], x1: l[3], y1: l[4],
  line: {color: '#777', width: 0.7}}));
leadersSSA.forEach(l => shapes.push({type: 'line', xref: l[0] === 1 ? 'x' : 'x2', yref: 'y', x0: l[1], y0: l[2], x1: l[3], y1: l[4],
  line: {color: GREEN, width: 0.7}}));
function brk(cx, cy) {
  shapes.push({type: 'rect', xref: 'paper', yref: 'paper', x0: px(cx - 2.5), x1: px(cx + 2.5), y0: py(cy + 2), y1: py(cy - 2), line: {width: 0}, fillcolor: '#fff'});
  shapes.push({type: 'line', xref: 'paper', yref: 'paper', x0: px(cx - 5.5), y0: py(cy + 6), x1: px(cx - 0.5), y1: py(cy - 6), line: {color: '#333', width: 1.2}});
  shapes.push({type: 'line', xref: 'paper', yref: 'paper', x0: px(cx + 0.5), y0: py(cy + 6), x1: px(cx + 5.5), y1: py(cy - 6), line: {color: '#333', width: 1.2}});
}
brk(238, 398);
brk(802, 395);

const axBase = {showline: true, linecolor: '#333', linewidth: 1.2, ticks: 'outside', ticklen: 5, tickwidth: 1.2,
  tickcolor: '#333', showgrid: false, zeroline: false, fixedrange: true, tickfont: {family: FONT, size: 12, color: '#222'}};
function xAx(dom, rng, anchor) {
  return Object.assign({}, axBase, {domain: [px(dom[0]), px(dom[1])], range: rng, anchor: anchor, tick0: 0, dtick: 500,
    ticklabelstandoff: 4, minor: {tick0: 0, dtick: 250, ticks: 'outside', ticklen: 3, tickcolor: '#333', tickwidth: 1}});
}
function yAx(top, bottom, anchor) {
  return Object.assign({}, axBase, {domain: [py(bottom), py(top)], range: [0, 19], anchor: anchor, tick0: 0, dtick: 2,
    minor: {tick0: 0, dtick: 1, ticks: 'outside', ticklen: 3, tickcolor: '#333', tickwidth: 1}});
}
const layout = {
  width: W, height: H, margin: {l: 0, r: 0, t: 0, b: 0}, paper_bgcolor: '#fff', plot_bgcolor: 'rgba(0,0,0,0)',
  showlegend: false, font: {family: FONT, size: 12, color: '#222'},
  xaxis: xAx([48, 238], [683, 1841.5], 'y'),
  xaxis2: xAx([238, 429], [2587.5, 3781], 'y'),
  yaxis: yAx(28.6, 398, 'x'),
  xaxis3: xAx([603, 802], [702.2, 1820.2], 'y2'),
  xaxis4: xAx([802, 1002], [2570.6, 3797.5], 'y2'),
  yaxis2: yAx(19.75, 395, 'x3'),
  annotations: ann, shapes: shapes
};
Plotly.newPlot('chart', traces, layout, {displayModeBar: false, staticPlot: true});
</script></body></html>
